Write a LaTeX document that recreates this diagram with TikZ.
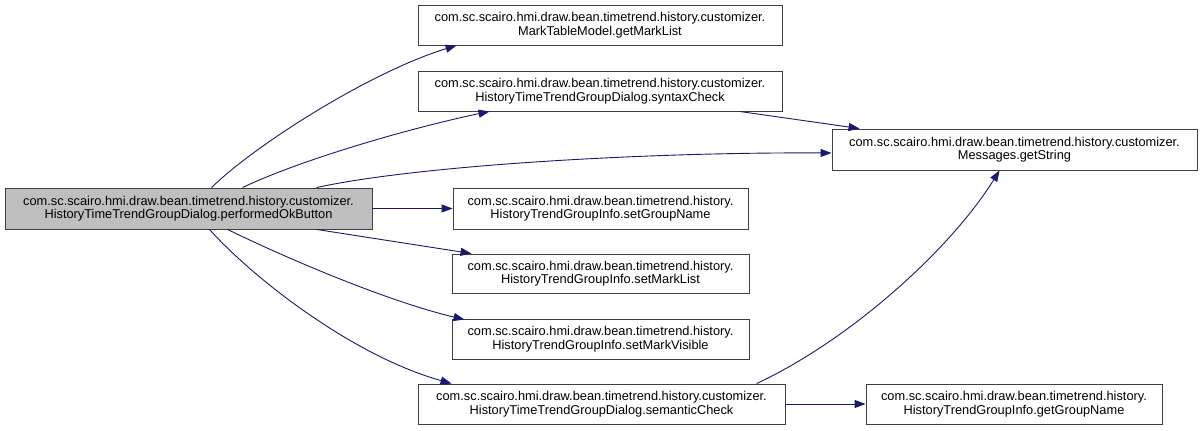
\documentclass[tikz,border=0pt]{standalone}
\usepackage{fontspec}
\setmainfont{Liberation Sans}
\usetikzlibrary{arrows.meta,calc}
\definecolor{edgeblue}{HTML}{191970}
\definecolor{mainfill}{HTML}{BFBFBF}
\begin{document}
\begin{tikzpicture}[x=1pt,y=-1pt,
  fn/.style={draw=black!75,line width=0.9pt,fill=white,inner sep=0pt,align=center,
    font=\fontsize{12.8}{13.6}\selectfont},
  call/.style={draw=edgeblue,line width=0.9pt,-{Triangle[length=11pt,width=8pt]}}]
\useasboundingbox (0,0) rectangle (1203,431);
\fill[white] (0,0) rectangle (1203,431);
\node[fn,fill=mainfill,minimum width=367pt,minimum height=41pt] (main) at (188.5,208.5)
  {com.sc.scairo.hmi.draw.bean.timetrend.history.customizer.\\HistoryTimeTrendGroupDialog.performedOkButton};
\node[fn,minimum width=364pt,minimum height=40pt] (mtm) at (600,25)
  {com.sc.scairo.hmi.draw.bean.timetrend.history.customizer.\\MarkTableModel.getMarkList};
\node[fn,minimum width=364pt,minimum height=40pt] (syn) at (600,91)
  {com.sc.scairo.hmi.draw.bean.timetrend.history.customizer.\\HistoryTimeTrendGroupDialog.syntaxCheck};
\node[fn,minimum width=365pt,minimum height=41pt] (msg) at (1014.5,149.5)
  {com.sc.scairo.hmi.draw.bean.timetrend.history.customizer.\\Messages.getString};
\node[fn,minimum width=295pt,minimum height=41pt] (sgn) at (600.5,208.5)
  {com.sc.scairo.hmi.draw.bean.timetrend.history.\\HistoryTrendGroupInfo.setGroupName};
\node[fn,minimum width=297pt,minimum height=39pt] (sml) at (600.5,273.5)
  {com.sc.scairo.hmi.draw.bean.timetrend.history.\\HistoryTrendGroupInfo.setMarkList};
\node[fn,minimum width=297pt,minimum height=40pt] (smv) at (600.5,339)
  {com.sc.scairo.hmi.draw.bean.timetrend.history.\\HistoryTrendGroupInfo.setMarkVisible};
\node[fn,minimum width=367pt,minimum height=40pt] (sem) at (601.5,404)
  {com.sc.scairo.hmi.draw.bean.timetrend.history.customizer.\\HistoryTimeTrendGroupDialog.semanticCheck};
\node[fn,minimum width=296pt,minimum height=40pt] (ggn) at (1014,404)
  {com.sc.scairo.hmi.draw.bean.timetrend.history.\\HistoryTrendGroupInfo.getGroupName};
% edges
\draw[call] ([xshift=207pt]main.north west) .. controls (255,145) and (370,72) .. ([xshift=39pt]mtm.south west);
\draw[call] ([xshift=238pt]main.north west) .. controls (300,160) and (410,128) .. ([xshift=72pt]syn.south west);
\draw[call] ([xshift=312pt]main.north west) .. controls (420,165) and (650,152) .. ([yshift=-3.5pt]msg.west);
\draw[call] (main.east) -- (sgn.west);
\draw[call] ([xshift=312pt]main.south west) -- ([xshift=20pt]sml.north west);
\draw[call] ([xshift=223pt]main.south west) .. controls (290,260) and (390,302) .. ([xshift=13pt,yshift=-1pt]smv.north west);
\draw[call] ([xshift=205pt]main.south west) .. controls (250,275) and (350,355) .. ([xshift=34pt]sem.north west);
\draw[call] ([xshift=322pt]syn.south west) -- ([xshift=28pt]msg.north west);
\draw[call] ([xshift=339pt]sem.north west) .. controls (850,340) and (950,250) .. ([xshift=168pt]msg.south west);
\draw[call] (sem.east) -- (ggn.west);
\end{tikzpicture}
\end{document}
